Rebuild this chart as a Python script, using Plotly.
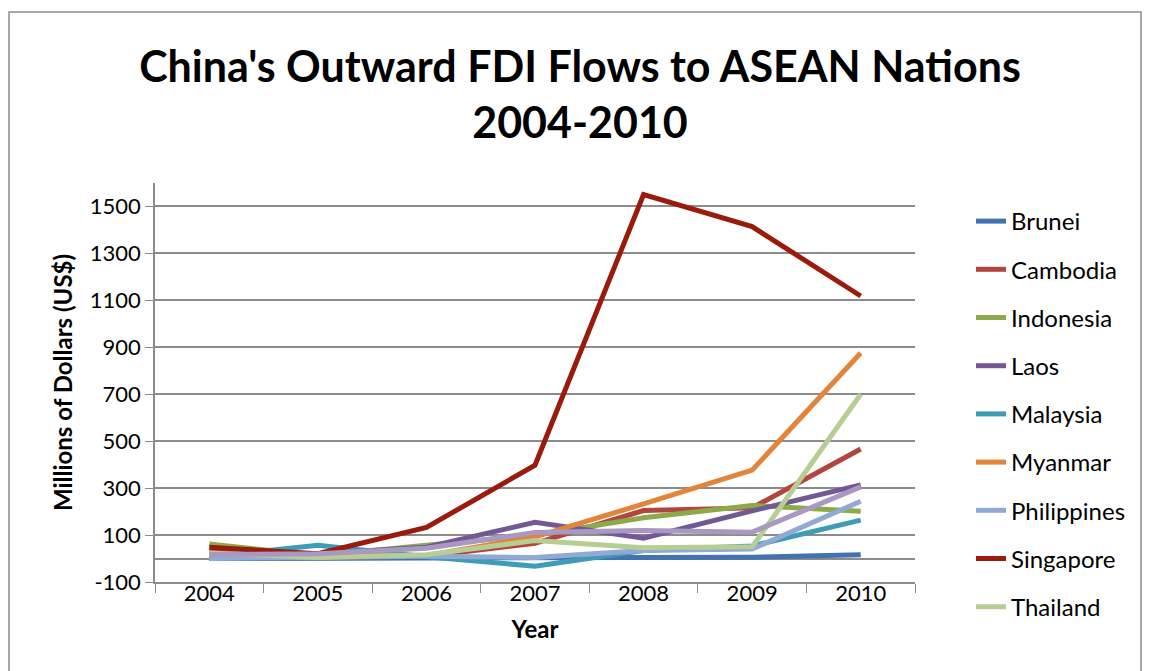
import plotly.graph_objects as go

years = ["2004", "2005", "2006", "2007", "2008", "2009", "2010"]
y_ticks = [-100, 100, 300, 500, 700, 900, 1100, 1300, 1500]

brunei = [0, 1.5, 0, 1.2, 1.8, 5.8, 16.5]
cambodia = [29.5, 5.2, 9.8, 64.5, 204.6, 215.8, 466.5]
indonesia = [62.0, 11.8, 56.9, 99.1, 174.0, 226.1, 201.3]
laos = [3.6, 20.6, 48.0, 154.4, 87.0, 203.2, 313.6]
malaysia = [8.1, 56.7, 7.5, -32.8, 34.4, 53.8, 163.5]
myanmar = [4.1, 11.5, 12.6, 92.3, 232.5, 376.7, 875.6]
philippines = [0.1, 4.5, 9.3, 4.5, 33.7, 40.2, 244.1]
singapore = [48.0, 20.3, 132.2, 397.7, 1551.0, 1414.1, 1118.5]
thailand = [23.4, 4.8, 15.8, 76.4, 45.5, 49.8, 699.9]
vietnam = [16.9, 20.8, 43.5, 110.9, 119.8, 112.4, 305.1]

series = [
    ("Brunei", brunei, "#4272B0"),
    ("Cambodia", cambodia, "#B3453F"),
    ("Indonesia", indonesia, "#8DAA4A"),
    ("Laos", laos, "#735896"),
    ("Malaysia", malaysia, "#3F9CB6"),
    ("Myanmar", myanmar, "#E2843A"),
    ("Philippines", philippines, "#90AAD3"),
    ("Singapore", singapore, "#9A1A0C"),
    ("Thailand", thailand, "#B6CD94"),
    ("Vietnam", vietnam, "#A998C2"),
]

FONT = "Lato"
GRID = "#8c8c8c"
OFF = 8  # page body margin the html adds around the figure

fig = go.Figure()
for name, vals, color in series:
    fig.add_scatter(
        x=years,
        y=vals,
        name=name,
        mode="lines",
        line=dict(color=color, width=5),
        legendgroup=name,
        showlegend=(name != "Vietnam"),  # legend is cut off in the original
    )

fig.update_layout(
    width=1151,
    height=671,
    paper_bgcolor="white",
    plot_bgcolor="white",
    font=dict(family=FONT, size=23, color="black"),
    margin=dict(l=155 - OFF, r=1151 - 915 + OFF, t=183 - OFF, b=671 - 582 + OFF, autoexpand=False),
    title=dict(
        text="<b>China's Outward FDI Flows to ASEAN Nations<br>2004-2010</b>",
        font=dict(family=FONT, size=43, color="black"),
        x=(580 - OFF) / 1151,
        xanchor="center",
        xref="container",
        y=1 - (82 - OFF) / 671,
        yanchor="middle",
        yref="container",
    ),
    xaxis=dict(
        type="category",
        range=[-0.5, 6.5],
        showgrid=False,
        showline=True,
        linecolor=GRID,
        linewidth=1.5,
        ticks="outside",
        tickson="boundaries",
        ticklen=9,
        tickcolor=GRID,
        tickfont=dict(size=22),
        ticklabelstandoff=-9,
        automargin=False,
        title=dict(text="<b>Year</b>", font=dict(size=24), standoff=16),
    ),
    yaxis=dict(
        range=[-100, 1600],
        tickvals=y_ticks,
        ticktext=[str(v) for v in y_ticks],
        showgrid=True,
        gridcolor=GRID,
        gridwidth=1.5,
        zeroline=True,
        zerolinecolor=GRID,
        zerolinewidth=1.5,
        showline=True,
        linecolor=GRID,
        linewidth=1.5,
        ticks="outside",
        ticklen=8,
        tickcolor=GRID,
        tickfont=dict(size=22),
        automargin=False,
        title=dict(text="<b>Millions of Dollars (US$)</b>", font=dict(size=24), standoff=10),
    ),
    legend=dict(
        x=(971 - 155) / 760,
        xanchor="left",
        y=(582 - 199) / 399,
        yanchor="top",
        font=dict(size=24),
        tracegroupgap=14,
        maxheight=520,
        bgcolor="rgba(0,0,0,0)",
    ),
)

# outer chart border
fig.add_shape(
    type="rect",
    xref="paper",
    yref="paper",
    x0=(9 - 155) / 760,
    x1=(1141 - 155) / 760,
    y0=(582 - 700) / 399,
    y1=(582 - 12) / 399,
    line=dict(color=GRID, width=1.5),
    layer="below",
)

fig.write_html("out.html")
